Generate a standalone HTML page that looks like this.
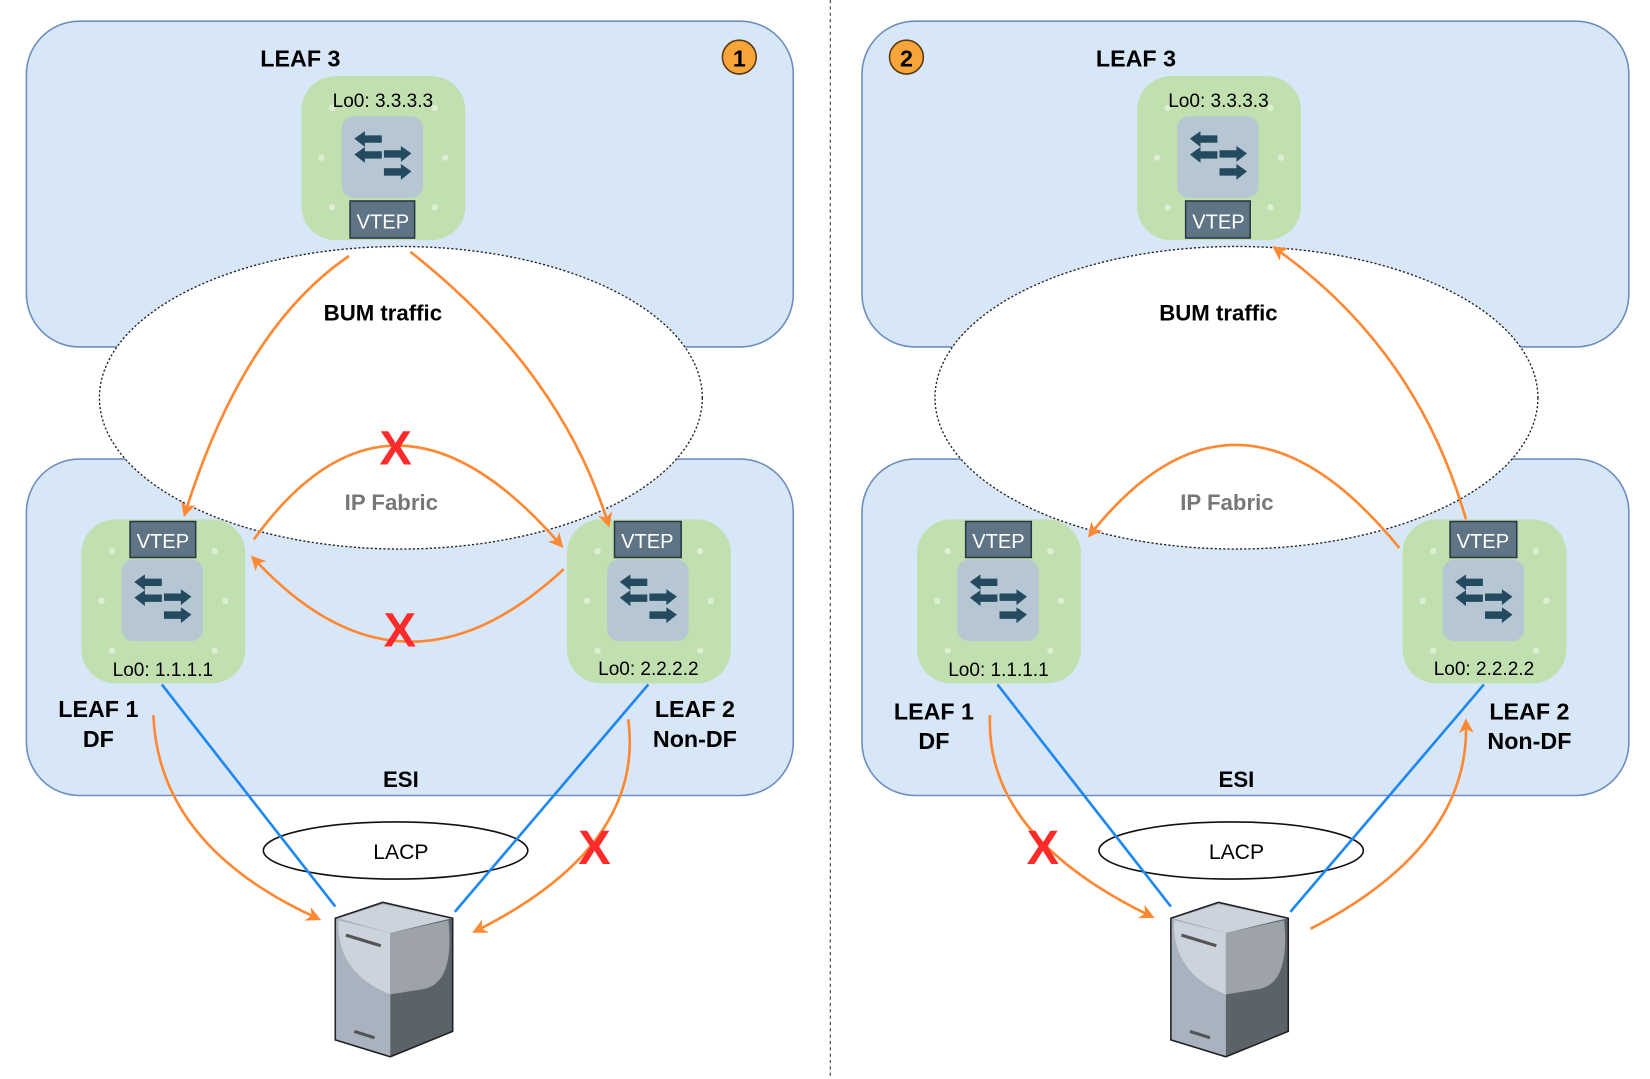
<!DOCTYPE html>
<html><head><meta charset="utf-8"><style>
html,body{margin:0;padding:0;background:#fff}
svg{display:block}
text{font-family:"Liberation Sans",Arial,sans-serif}
</style></head><body>
<svg width="1650" height="1079" viewBox="0 0 1560 1020" preserveAspectRatio="none" xmlns="http://www.w3.org/2000/svg">
<defs>
<marker id="ah" markerWidth="14" markerHeight="14" refX="10" refY="7" orient="auto" markerUnits="userSpaceOnUse">
<path d="M0,0 L14,7 L0,14 L4,7 Z" fill="#ff8833"/>
</marker>
<g id="sw">
<rect x="0" y="0" width="155" height="155" rx="32" fill="#c2dfb0"/>
<rect x="38" y="38" width="77" height="77" rx="11" fill="#b6c7d3"/>
<g fill="#244a60">
<path d="M50,59 l10,-7 v4 h16 v7 h-16 v4 z"/>
<path d="M50,74 l10,-7 v4 h16 v7 h-16 v4 z"/>
<path d="M104,73 l-10,-7 v4 h-16 v7 h16 v4 z"/>
<path d="M104,90 l-10,-7 v4 h-16 v7 h16 v4 z"/>
</g>
<g fill="#ddeed3"><circle cx="19" cy="77" r="3"/><circle cx="136" cy="77" r="3"/><circle cx="29" cy="124" r="3"/><circle cx="126" cy="124" r="3"/><circle cx="29" cy="30" r="3"/><circle cx="126" cy="30" r="3"/></g>
</g>
<g id="server">
<path d="M317,868 L362,853 L428,868 L428,975 L369,999 L317,983 Z" fill="#a9b3bf"/>
<path d="M369,882 L428,868 L428,975 L369,999 Z" fill="#5b6268"/>
<path d="M320,870 Q318,920 369,940 L369,882 Z" fill="#ccd3dd"/>
<path d="M369,882 L424,870 Q430,930 400,935 L369,940 Z" fill="#9da3a8"/>
<path d="M320,868 L362,855 L426,868 L369,882 Z" fill="#ccd3dd"/>
<path d="M317,868 L362,853 L428,868 L428,975 L369,999 L317,983 Z" fill="none" stroke="#222" stroke-width="1.5"/>
<path d="M327,884 L360,894 M335,975 L354,981" stroke="#555" stroke-width="3"/>
</g>
</defs>

<line x1="785" y1="0" x2="785" y2="1020" stroke="#333" stroke-width="1" stroke-dasharray="3,3"/>

<!-- PANEL 1 -->
<g>
<rect x="25" y="20" width="725" height="308" rx="50" fill="#d8e7f8" stroke="#6c8ebf" stroke-width="1.5"/>
<rect x="25" y="434" width="725" height="318" rx="50" fill="#d8e7f8" stroke="#6c8ebf" stroke-width="1.5"/>
<ellipse cx="379" cy="376" rx="285" ry="143" fill="#fff" stroke="#222" stroke-width="1.3" stroke-dasharray="2,2"/>
<text x="284" y="63" font-size="22" font-weight="bold" text-anchor="middle">LEAF 3</text>
<circle cx="699" cy="54" r="16" fill="#f7a43a" stroke="#5a3a10" stroke-width="1.5"/>
<text x="699" y="63" font-size="22" font-weight="bold" text-anchor="middle">1</text>
<use href="#sw" x="285" y="72"/>
<rect x="331" y="190" width="61" height="35" fill="#5f7585" stroke="#2a3a45" stroke-width="1.5"/>
<text x="362" y="216" font-size="19" fill="#fff" text-anchor="middle">VTEP</text>
<text x="362" y="101" font-size="18" text-anchor="middle">Lo0: 3.3.3.3</text>
<text x="362" y="303" font-size="21" font-weight="bold" text-anchor="middle">BUM traffic</text>
<text x="370" y="482" font-size="21" font-weight="bold" fill="#777" text-anchor="middle">IP Fabric</text>

<use href="#sw" x="77" y="491"/>
<rect x="123" y="493" width="62" height="34" fill="#5f7585" stroke="#2a3a45" stroke-width="1.5"/>
<text x="154" y="518" font-size="19" fill="#fff" text-anchor="middle">VTEP</text>
<text x="154" y="639" font-size="18" text-anchor="middle">Lo0: 1.1.1.1</text>
<use href="#sw" x="536" y="491"/>
<rect x="581" y="493" width="63" height="34" fill="#5f7585" stroke="#2a3a45" stroke-width="1.5"/>
<text x="612" y="518" font-size="19" fill="#fff" text-anchor="middle">VTEP</text>
<text x="613" y="638" font-size="18" text-anchor="middle">Lo0: 2.2.2.2</text>

<text x="93" y="678" font-size="22" font-weight="bold" text-anchor="middle">LEAF 1</text>
<text x="93" y="706" font-size="22" font-weight="bold" text-anchor="middle">DF</text>
<text x="657" y="678" font-size="22" font-weight="bold" text-anchor="middle">LEAF 2</text>
<text x="657" y="706" font-size="22" font-weight="bold" text-anchor="middle">Non-DF</text>
<text x="379" y="744" font-size="21" font-weight="bold" text-anchor="middle">ESI</text>
<ellipse cx="374" cy="804" rx="125" ry="27" fill="none" stroke="#111" stroke-width="1.5"/>
<text x="379" y="812" font-size="20" text-anchor="middle">LACP</text>
<line x1="153" y1="647" x2="317" y2="857" stroke="#1e88f0" stroke-width="2.5"/>
<line x1="613" y1="647" x2="430" y2="862" stroke="#1e88f0" stroke-width="2.5"/>
<use href="#server"/>

<g fill="none" stroke="#ff8833" stroke-width="2.5" marker-end="url(#ah)">
<path d="M330,242 Q230,310 175,485"/>
<path d="M388,238 Q530,350 575,495"/>
<path d="M240,510 Q370,330 530,515"/>
<path d="M533,538 Q380,680 240,528"/>
<path d="M145,676 Q150,800 300,868"/>
<path d="M594,680 Q610,800 450,880"/>
</g>
<g fill="#ff2a2a" font-size="46" font-weight="bold" text-anchor="middle">
<text x="374" y="439">X</text>
<text x="378" y="611">X</text>
<text x="562" y="817">X</text>
</g>
</g>

<!-- PANEL 2 -->
<g transform="translate(790,0)">
<rect x="25" y="20" width="725" height="308" rx="50" fill="#d8e7f8" stroke="#6c8ebf" stroke-width="1.5"/>
<rect x="25" y="434" width="725" height="318" rx="50" fill="#d8e7f8" stroke="#6c8ebf" stroke-width="1.5"/>
<ellipse cx="379" cy="376" rx="285" ry="143" fill="#fff" stroke="#222" stroke-width="1.3" stroke-dasharray="2,2"/>
<text x="284" y="63" font-size="22" font-weight="bold" text-anchor="middle">LEAF 3</text>
<circle cx="67" cy="54" r="16" fill="#f7a43a" stroke="#5a3a10" stroke-width="1.5"/>
<text x="67" y="63" font-size="22" font-weight="bold" text-anchor="middle">2</text>
<use href="#sw" x="285" y="72"/>
<rect x="331" y="190" width="61" height="35" fill="#5f7585" stroke="#2a3a45" stroke-width="1.5"/>
<text x="362" y="216" font-size="19" fill="#fff" text-anchor="middle">VTEP</text>
<text x="362" y="101" font-size="18" text-anchor="middle">Lo0: 3.3.3.3</text>
<text x="362" y="303" font-size="21" font-weight="bold" text-anchor="middle">BUM traffic</text>
<text x="370" y="482" font-size="21" font-weight="bold" fill="#777" text-anchor="middle">IP Fabric</text>

<use href="#sw" x="77" y="491"/>
<rect x="123" y="493" width="62" height="34" fill="#5f7585" stroke="#2a3a45" stroke-width="1.5"/>
<text x="154" y="518" font-size="19" fill="#fff" text-anchor="middle">VTEP</text>
<text x="154" y="639" font-size="18" text-anchor="middle">Lo0: 1.1.1.1</text>
<use href="#sw" x="536" y="491"/>
<rect x="581" y="493" width="63" height="34" fill="#5f7585" stroke="#2a3a45" stroke-width="1.5"/>
<text x="612" y="518" font-size="19" fill="#fff" text-anchor="middle">VTEP</text>
<text x="613" y="638" font-size="18" text-anchor="middle">Lo0: 2.2.2.2</text>

<text x="93" y="680" font-size="22" font-weight="bold" text-anchor="middle">LEAF 1</text>
<text x="93" y="708" font-size="22" font-weight="bold" text-anchor="middle">DF</text>
<text x="656" y="680" font-size="22" font-weight="bold" text-anchor="middle">LEAF 2</text>
<text x="656" y="708" font-size="22" font-weight="bold" text-anchor="middle">Non-DF</text>
<text x="379" y="744" font-size="21" font-weight="bold" text-anchor="middle">ESI</text>
<ellipse cx="374" cy="804" rx="125" ry="27" fill="none" stroke="#111" stroke-width="1.5"/>
<text x="379" y="812" font-size="20" text-anchor="middle">LACP</text>
<line x1="153" y1="647" x2="317" y2="857" stroke="#1e88f0" stroke-width="2.5"/>
<line x1="613" y1="647" x2="430" y2="862" stroke="#1e88f0" stroke-width="2.5"/>
<use href="#server"/>

<g fill="none" stroke="#ff8833" stroke-width="2.5" marker-end="url(#ah)">
<path d="M596,491 Q550,330 416,235"/>
<path d="M533,518 Q380,330 241,505"/>
<path d="M146,676 Q141,790 298,866"/>
<path d="M449,878 Q600,800 596,683"/>
</g>
<g fill="#ff2a2a" font-size="46" font-weight="bold" text-anchor="middle">
<text x="196" y="817">X</text>
</g>
</g>
</svg>
</body></html>
